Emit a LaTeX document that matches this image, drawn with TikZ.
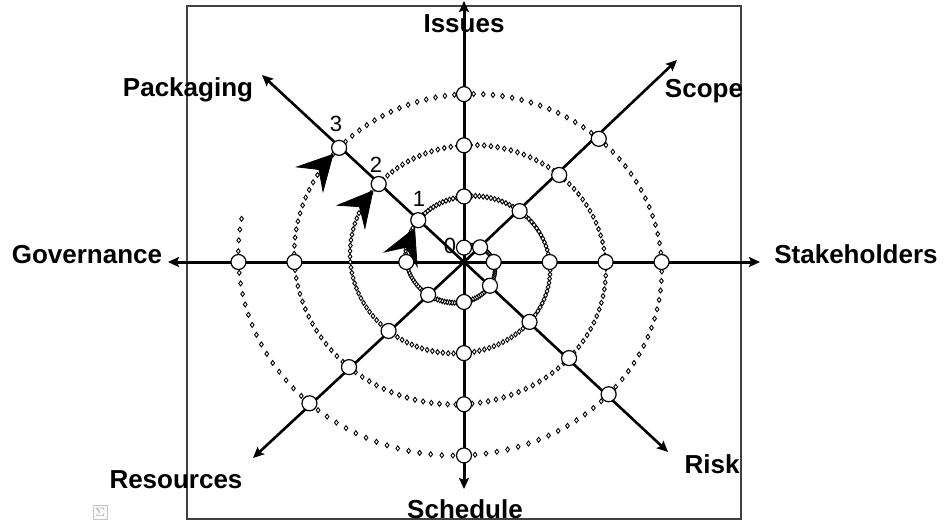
\documentclass[tikz,border=0pt]{standalone}
\usepackage{fontspec}
\setmainfont{Liberation Sans}
\usetikzlibrary{arrows.meta,plotmarks,calc}

\begin{document}
\begin{tikzpicture}[
  x=0.5pt, y=0.5pt,
  declare function={spx(\t)=1.05*(15+0.148*\t)*cos(90-\t);
                    spy(\t)=0.96*(15+0.148*\t)*sin(90-\t);},
  spoke/.style={line width=1.5pt, -{Stealth[length=5.5pt, width=5pt, inset=1pt]}},
  diag/.style={spoke, line width=1.3pt},
  ringmark/.style={circle, draw, fill=white, line width=0.6pt, minimum size=7.5pt, inner sep=0pt},
  turn/.style={line width=0.4pt, -{Stealth[length=18pt, width=19pt, inset=7pt]}},
  lbl/.style={font=\fontsize{13}{15}\selectfont\bfseries, inner sep=0pt, anchor=base},
  num/.style={font=\fontsize{11}{13}\selectfont, inner sep=0pt, anchor=base}
]
\useasboundingbox (-464,-262) rectangle (481,262);
\draw[line width=0.7pt, black!75] (-277,-257) rectangle (277,256);

% the eight spokes
\coordinate (o) at (0,0);
\coordinate (tipN) at (0,261);
\coordinate (tipS) at (0,-227);
\coordinate (tipW) at (-296,0);
\coordinate (tipE) at (296,0);
\coordinate (tipNE) at (213,202);
\coordinate (tipNW) at (-202,187);
\coordinate (tipSW) at (-211,-196);
\coordinate (tipSE) at (204,-190);
\foreach \d in {N,S,W,E} \draw[spoke] (o) -- (tip\d);
\foreach \d in {NE,NW,SW,SE} \draw[diag] (o) -- (tip\d);

% spiral, one dot every 3 degrees
\draw[line width=0.45pt] plot[only marks, mark=diamond*, mark size=1.25pt,
  mark options={fill=white}, samples at={0,3,...,1362}] ({spx(\x)},{spy(\x)});

% crossings of the spiral with the spokes
\foreach \t in {0,45,...,1350}{
  \ifnum\t=630 \else
    \node[ringmark] (m\t) at ({spx(\t)},{spy(\t)}) {};
  \fi
}

\coordinate (t1) at ($(m315)+(246:30)$);
\coordinate (t2) at ($(m675)+(230:30)$);
\coordinate (t3) at ($(m1035)+(227:30)$);
\draw[turn] (t1) -- (m315);
\draw[turn] (t2) -- (m675);
\draw[turn] (t3) -- (m1035);

\node[num] (n0) at (-14,9) {0};
\node[num] (n1) at (-45,55) {1};
\node[num] (n2) at (-88,90) {2};
\node[num] (n3) at (-128,130) {3};

\node[lbl] (issues) at (0,229) {Issues};
\node[lbl] (packaging) at (-276,165) {Packaging};
\node[lbl] (scope) at (240,164) {Scope};
\node[lbl] (governance) at (-377,-1) {Governance};
\node[lbl] (stakeholders) at (392,-1) {Stakeholders};
\node[lbl] (resources) at (-288,-226) {Resources};
\node[lbl] (risk) at (248,-211) {Risk};
\node[lbl] (schedule) at (1,-256) {Schedule};

\node[draw=gray!45, fill=gray!4, text=gray!60, minimum size=7pt, inner sep=0.5pt,
  font=\fontsize{6}{6}\selectfont] (sigma) at (-364,-250) {$\Sigma$};
\end{tikzpicture}
\end{document}
